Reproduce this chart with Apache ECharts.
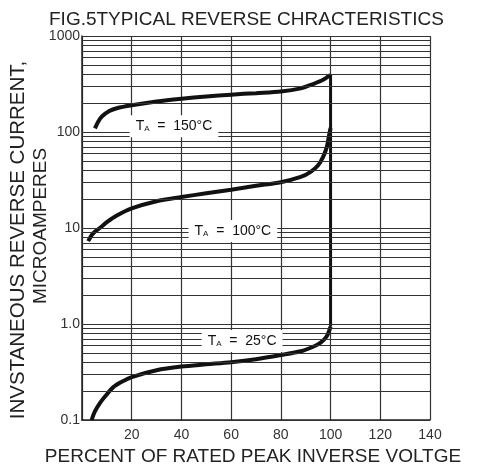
<!DOCTYPE html>
<html>
<head>
<meta charset="utf-8">
<script src="https://cdn.jsdelivr.net/npm/echarts@6/dist/echarts.min.js"></script>
<style>html,body{margin:0;padding:0;background:#fff}#c{width:481px;height:468px}</style>
</head>
<body>
<div id="c"></div>
<script>
// ---- data ----
const xTicks = [20, 40, 60, 80, 100, 120, 140];
const yTickLabels = ['0.1', '1.0', '10', '100', '1000'];

const t150X = [5.2, 6.5, 8, 11, 14, 20, 30, 40, 50, 60, 70, 80, 88, 93, 97, 100];
const t150Y = [109, 128, 145, 165, 177, 190, 208, 222, 234, 245, 254, 264, 285, 316, 350, 393];

const t100X = [2.5, 4, 5.5, 7.2, 10, 14, 20, 30, 40, 50, 60, 70, 80, 88, 92, 95, 97, 98.5, 99.3, 100];
const t100Y = [7.3, 8.5, 9.3, 10, 11.5, 13.5, 16, 19, 21, 23, 25, 27.5, 30, 34, 38.5, 45, 55, 70, 90, 110];

const t25X = [3.9, 5, 7.2, 10, 12.6, 16, 20, 30, 40, 50, 60, 70, 80, 88, 93, 96, 98.4, 100];
const t25Y = [0.1, 0.12, 0.15, 0.185, 0.22, 0.25, 0.28, 0.33, 0.36, 0.38, 0.40, 0.43, 0.475, 0.52, 0.58, 0.64, 0.74, 0.94];

const labelTemps = ['150', '100', '25'];
const labelX = [37, 60.7, 64.4];
const labelY = [115, 9.3, 0.665];

// ---- build ----
const zip = (a, b) => a.map((v, i) => [v, b[i]]);
const gridVals = [];
[0.1, 1, 10, 100].forEach(d => { for (let k = 1; k <= 10; k++) gridVals.push(+(d * k).toPrecision(3)); });

const curveStyle = { color: '#111', width: 4 };
const chart = echarts.init(document.getElementById('c'), null, { renderer: 'canvas' });
chart.setOption({
  animation: false,
  backgroundColor: '#fff',
  textStyle: { fontFamily: 'Liberation Sans, Arial, sans-serif' },
  title: {
    text: 'FIG.5TYPICAL REVERSE CHRACTERISTICS',
    left: 44, top: 5,
    textStyle: { fontSize: 19, fontWeight: 'normal', color: '#222', fontFamily: 'Liberation Sans' }
  },
  grid: { left: 82, right: 51, top: 36, bottom: 48 },
  xAxis: {
    type: 'value', min: 0, max: 140, interval: 20,
    axisLine: { lineStyle: { color: '#222', width: 1.5 } },
    axisTick: { show: false },
    splitLine: { show: true, lineStyle: { color: '#333', width: 1.2 } },
    axisLabel: {
      color: '#333', fontSize: 14, margin: 8,
      formatter: v => (xTicks.indexOf(v) >= 0 ? String(v) : '')
    }
  },
  yAxis: {
    type: 'log', logBase: 10, min: 0.1, max: 1000,
    axisLine: { show: true, lineStyle: { color: '#222', width: 1.5 } },
    axisTick: { show: false },
    splitLine: { show: false },
    axisLabel: {
      color: '#333', fontSize: 14, margin: 2,
      formatter: v => yTickLabels[Math.round(Math.log10(v)) + 1] || ''
    }
  },
  graphic: [
    { type: 'text', x: 18, y: 240, rotation: Math.PI / 2,
      style: { text: 'INVSTANEOUS REVERSE CURRENT,', fontSize: 20.5, fill: '#222', fontFamily: 'Liberation Sans', align: 'center', verticalAlign: 'middle' } },
    { type: 'text', x: 41, y: 226, rotation: Math.PI / 2,
      style: { text: 'MICROAMPERES', fontSize: 19, fill: '#222', fontFamily: 'Liberation Sans', align: 'center', verticalAlign: 'middle' } },
    { type: 'text', x: 253, y: 457,
      style: { text: 'PERCENT OF RATED PEAK INVERSE VOLTGE', fontSize: 19, fill: '#222', fontFamily: 'Liberation Sans', align: 'center', verticalAlign: 'middle' } }
  ],
  series: [
    {
      type: 'line', data: [], silent: true, z: 1,
      markLine: {
        silent: true, symbol: 'none', label: { show: false },
        lineStyle: { color: '#333', width: 1.2, type: 'solid' },
        data: gridVals.map(v => ({ yAxis: v }))
      }
    },
    { name: '150', type: 'line', data: zip(t150X, t150Y), smooth: 0.3, showSymbol: false, lineStyle: curveStyle, z: 3 },
    { name: '100', type: 'line', data: zip(t100X, t100Y), smooth: 0.3, showSymbol: false, lineStyle: curveStyle, z: 3 },
    { name: '25', type: 'line', data: zip(t25X, t25Y), smooth: 0.3, showSymbol: false, lineStyle: curveStyle, z: 3 },
    { name: 'knee', type: 'line', data: [[100, t25Y[t25Y.length - 1]], [100, t150Y[t150Y.length - 1]]], showSymbol: false, lineStyle: { color: '#111', width: 3 }, z: 3 },
    {
      type: 'scatter', symbolSize: 0, z: 5, silent: true,
      itemStyle: { opacity: 1 },
      data: labelX.map((x, i) => ({ value: [x, labelY[i]], name: labelTemps[i] })),
      label: {
        show: true, position: 'inside', opacity: 1,
        backgroundColor: '#fff', padding: [4, 6, 4, 6],
        formatter: p => '{t|T}{s|A}{t|  =  ' + p.name + '°C}',
        rich: {
          t: { fontSize: 14, color: '#111', fontFamily: 'Liberation Sans' },
          s: { fontSize: 8, color: '#111', verticalAlign: 'bottom', fontFamily: 'Liberation Sans' }
        }
      }
    }
  ]
});
</script>
</body>
</html>
